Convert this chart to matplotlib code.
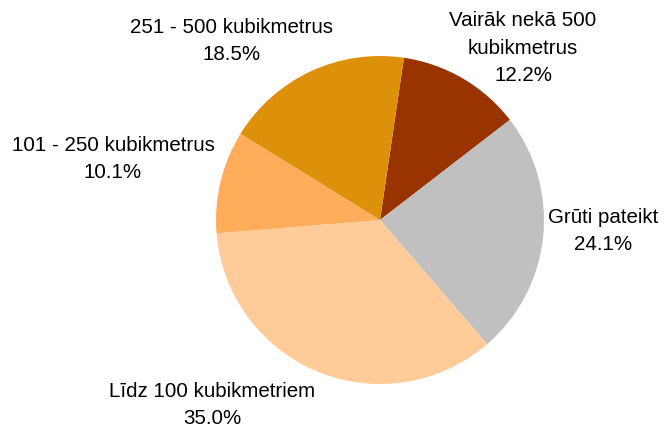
import matplotlib
matplotlib.use("Agg")
import matplotlib.pyplot as plt

categories = ["Vairāk nekā 500\nkubikmetrus", "Grūti pateikt", "Līdz 100 kubikmetriem",
              "101 - 250 kubikmetrus", "251 - 500 kubikmetrus"]
values = [12.2, 24.1, 35.0, 10.1, 18.5]
colors = ["#993300", "#C0C0C0", "#FFCC99", "#FFAD5B", "#DD9009"]
# label centres in pixel coordinates (x, y from top)
label_pos = [(523, 48), (603, 231), (212, 405), (113, 159), (232, 41)]

plt.rcParams['font.family'] = ['Liberation Sans', 'DejaVu Sans']

W, H = 664, 430
fig = plt.figure(figsize=(W / 100, H / 100), dpi=100)
ax = fig.add_axes([0, 0, 1, 1])
ax.pie(values, colors=colors, startangle=81.6, counterclock=False,
       center=(380, H - 220), radius=164,
       wedgeprops=dict(linewidth=0))
ax.set_xlim(0, W)
ax.set_ylim(0, H)
ax.set_aspect('equal')
ax.axis('off')

for cat, v, (x, y) in zip(categories, values, label_pos):
    ax.text(x, H - y, f"{cat}\n{v:.1f}%", ha='center', va='center',
            fontsize=14.8, linespacing=1.55, color='black')

fig.savefig("out.png", dpi=100)
